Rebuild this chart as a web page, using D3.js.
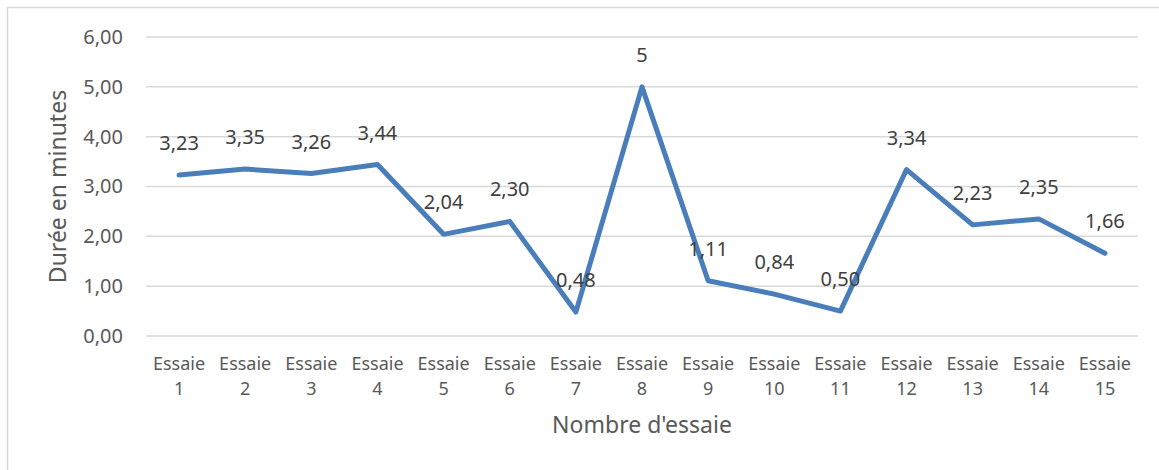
<!DOCTYPE html>
<html>
<head>
<meta charset="utf-8">
<script src="https://cdn.jsdelivr.net/npm/d3@7"></script>
<style>
  html, body { margin: 0; padding: 0; background: #fff; }
  svg { display: block; }
  text { font-family: "Noto Sans", "Open Sans", sans-serif; }
</style>
</head>
<body>
<svg id="chart" width="1159" height="470"></svg>
<script>
// Durée de chaque essai (minutes)
const categories = ["Essaie 1","Essaie 2","Essaie 3","Essaie 4","Essaie 5","Essaie 6","Essaie 7","Essaie 8",
                    "Essaie 9","Essaie 10","Essaie 11","Essaie 12","Essaie 13","Essaie 14","Essaie 15"];
const durations = [3.23, 3.35, 3.26, 3.44, 2.04, 2.30, 0.48, 5, 1.11, 0.84, 0.50, 3.34, 2.23, 2.35, 1.66];
const valueLabels = ["3,23","3,35","3,26","3,44","2,04","2,30","0,48","5","1,11","0,84","0,50","3,34","2,23","2,35","1,66"];
const yTicks = [0, 1, 2, 3, 4, 5, 6];

const svg = d3.select("#chart");

// chart frame (top and left edges)
svg.append("path")
  .attr("d", "M7.5,480 L7.5,7.5 L1170,7.5")
  .attr("fill", "none")
  .attr("stroke", "#d9d9d9")
  .attr("stroke-width", 1.5);

const x = d3.scaleBand().domain(categories).range([146, 1138]);
const y = d3.scaleLinear().domain([0, 6]).range([336, 37]);
const fmt = v => d3.format(".2f")(v).replace(".", ",");

// horizontal gridlines
svg.append("g")
  .selectAll("line")
  .data(yTicks)
  .join("line")
  .attr("x1", 146).attr("x2", 1138)
  .attr("y1", d => y(d)).attr("y2", d => y(d))
  .attr("stroke", "#d9d9d9")
  .attr("stroke-width", 1.5);

// y axis labels
const yAxis = svg.append("g")
  .attr("transform", "translate(123,0)")
  .call(d3.axisLeft(y).tickValues(yTicks).tickFormat(fmt).tickSize(0).tickPadding(0));
yAxis.select(".domain").remove();
yAxis.selectAll("text")
  .attr("fill", "#595959")
  .style("font-size", "20px")
  .style("font-family", "'Noto Sans', sans-serif");

// x axis labels (two lines)
const xAxis = svg.append("g")
  .attr("transform", "translate(0,336)")
  .call(d3.axisBottom(x).tickSize(0).tickFormat(""));
xAxis.select(".domain").remove();
xAxis.selectAll(".tick").each(function(d) {
  const parts = d.split(" ");
  const t = d3.select(this).append("text")
    .attr("fill", "#595959")
    .attr("text-anchor", "middle")
    .style("font-size", "18px");
  t.append("tspan").attr("x", 0).attr("y", 34).text(parts[0]);
  t.append("tspan").attr("x", 0).attr("y", 59).text(parts[1]);
});

// axis titles
svg.append("text")
  .attr("x", 642).attr("y", 433)
  .attr("text-anchor", "middle")
  .attr("fill", "#595959")
  .style("font-size", "23px")
  .text("Nombre d'essaie");

svg.append("text")
  .attr("transform", "translate(66,186.5) rotate(-90)")
  .attr("text-anchor", "middle")
  .attr("fill", "#595959")
  .style("font-size", "23px")
  .text("Durée en minutes");

// series line
const cx = d => x(d) + x.bandwidth() / 2;
const line = d3.line()
  .x((d, i) => cx(categories[i]))
  .y(d => y(d));

svg.append("path")
  .datum(durations)
  .attr("d", line)
  .attr("fill", "none")
  .attr("stroke", "#4a7ebb")
  .attr("stroke-width", 5)
  .attr("stroke-linejoin", "round")
  .attr("stroke-linecap", "round");

// data labels
svg.append("g")
  .selectAll("text")
  .data(durations)
  .join("text")
  .attr("x", (d, i) => cx(categories[i]))
  .attr("y", d => y(d) - 25)
  .attr("text-anchor", "middle")
  .attr("fill", "#404040")
  .style("font-size", "20px")
  .text((d, i) => valueLabels[i]);
</script>
</body>
</html>
